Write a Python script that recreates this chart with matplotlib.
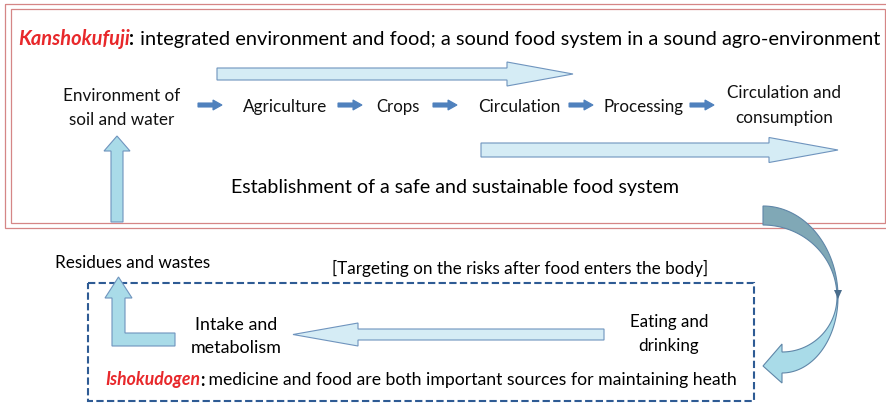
import numpy as np
import matplotlib
matplotlib.use("Agg")
import matplotlib.pyplot as plt
from matplotlib.patches import Polygon, Rectangle

plt.rcParams['font.family'] = ['Lato', 'DejaVu Sans']

# --- texts ---
TITLE_KEY = "Kanshokufuji"
TITLE_REST = " integrated environment and food; a sound food system in a sound agro-environment"
FLOW_STEPS = [["Environment of", "soil and water"], ["Agriculture"], ["Crops"],
              ["Circulation"], ["Processing"], ["Circulation and", "consumption"]]
GOAL = "Establishment of a safe and sustainable food system"
BODY_NOTE = "[Targeting on the risks after food enters the body]"
WASTE = "Residues and wastes"
INTAKE = ["Intake and", "metabolism"]
EATING = ["Eating and", "drinking"]
FOOT_KEY = "Ishokudogen"
FOOT_REST = " medicine and food are both important sources for maintaining heath"

# --- layout (pixel units, y downwards) ---
FLOW_X = [122, 285, 398, 519, 644, 784]
FLOW_W = [117, 84, 43, 82, 80, 113]
FLOW_Y = [[96, 120], [107], [107], [107], [107], [93, 118]]
SMALL_ARROW_X = [198, 338, 433, 569, 690]

RED = '#e8282b'
BORDER = '#d58686'
PALE = '#d5ecf5'
LIGHT = '#a9dbe8'
DARK = '#80a8b6'
EDGE = '#6f94be'
NAVY = '#2e5b94'
SMALL = '#4f81bd'

W, H = 886, 404
fig = plt.figure(figsize=(W / 100, H / 100), dpi=100)
ax = fig.add_axes([0, 0, 1, 1])
ax.set_xlim(0, W)
ax.set_ylim(H, 0)
ax.axis('off')
renderer = fig.canvas.get_renderer()


def width_of(t):
    return t.get_window_extent(renderer).width


def fit_lines(lines, xc, ys, width, **kw):
    """Draw centred lines sharing one font size so the widest line spans `width`."""
    probe = [ax.text(0, 0, s, fontsize=12, **kw) for s in lines]
    w = max(width_of(t) for t in probe)
    for t in probe:
        t.remove()
    size = 12 * width / w
    for s, y in zip(lines, ys):
        ax.text(xc, y, s, fontsize=size, ha='center', va='center', **kw)


def rich_line(x0, y, parts, width):
    """Draw a line made of differently styled pieces, scaled to `width`."""
    probe = [ax.text(0, 0, s, fontsize=12, **kw) for s, kw in parts]
    ws = [width_of(t) for t in probe]
    for t in probe:
        t.remove()
    k = width / sum(ws)
    x = x0
    for (s, kw), w in zip(parts, ws):
        ax.text(x, y, s, fontsize=12 * k, ha='left', va='center', **kw)
        x += w * k


def h_arrow(x_tail, x_tip, yc, shaft, head, head_len, fc, z=3):
    d = np.sign(x_tip - x_tail)
    xb = x_tip - d * head_len
    pts = [(x_tail, yc - shaft / 2), (xb, yc - shaft / 2), (xb, yc - head / 2),
           (x_tip, yc), (xb, yc + head / 2), (xb, yc + shaft / 2), (x_tail, yc + shaft / 2)]
    ax.add_patch(Polygon(pts, closed=True, fc=fc, ec=EDGE, lw=0.8, zorder=z))


def v_arrow(xc, y_tail, y_tip, shaft, head, head_len, fc, z=3):
    yb = y_tip + head_len
    pts = [(xc - shaft / 2, y_tail), (xc - shaft / 2, yb), (xc - head / 2, yb),
           (xc, y_tip), (xc + head / 2, yb), (xc + shaft / 2, yb), (xc + shaft / 2, y_tail)]
    ax.add_patch(Polygon(pts, closed=True, fc=fc, ec=EDGE, lw=0.8, zorder=z))


# double red frame
ax.add_patch(Rectangle((5, 4), 884, 224, fill=False, ec=BORDER, lw=0.9, zorder=1))
ax.add_patch(Rectangle((11, 9), 874, 214, fill=False, ec=BORDER, lw=0.9, zorder=1))

# title
rich_line(18, 39, [(TITLE_KEY, dict(color=RED, fontweight='bold', fontstyle='italic')),
                   (":", dict(color='black', fontweight='bold')),
                   (TITLE_REST, dict(color='black'))], 861)

# flow row
for lines, xc, ys, w in zip(FLOW_STEPS, FLOW_X, FLOW_Y, FLOW_W):
    fit_lines(lines, xc, ys, w, color='#111111')
for x in SMALL_ARROW_X:
    h_arrow(x, x + 24, 105, 4, 10, 9, SMALL)
    ax.patches[-1].set_edgecolor(SMALL)

# big pale arrows in the top box
h_arrow(217, 573, 74, 12, 24, 66, PALE)
h_arrow(481, 838, 150, 14, 25, 69, PALE)
fit_lines([GOAL], 455, [187], 448, color='black')

# up arrow into environment
v_arrow(117, 222, 136, 12, 26, 15, LIGHT)

# curved arrow from top box down to bottom box
t = np.linspace(0, np.pi / 2, 40)
outer = np.c_[763 + 75 * np.sin(t), 297 - 91 * np.cos(t)]
inner = np.c_[763 + 74 * np.sin(t), 297 - 72 * np.cos(t)][::-1]
ax.add_patch(Polygon(np.vstack([outer, inner]), closed=True, fc=DARK, ec='#5f86a8',
                     lw=0.8, zorder=4))
low_outer = np.c_[782 + 56 * np.cos(t), 297 + 76 * np.sin(t)]
low_inner = np.c_[782 + 55 * np.cos(t), 297 + 55 * np.sin(t)][::-1]
head = np.array([(782, 383), (763, 366), (782, 344)])
ax.add_patch(Polygon(np.vstack([low_outer, head, low_inner]), closed=True, fc=LIGHT,
                     ec='#5f86a8', lw=0.8, zorder=4))
ax.add_patch(Polygon([(834, 290), (842, 290), (838, 299)], closed=True, fc='#4a6d8c',
                     ec='none', zorder=5))

# lower dashed box
ax.add_patch(Rectangle((88, 283), 666, 118, fill=False, ec=NAVY, lw=1.5,
                       linestyle=(0, (3.5, 1.6)), zorder=2))
fit_lines([WASTE], 133, [263], 155, color='black')
fit_lines([BODY_NOTE], 520, [268], 376, color='black')
fit_lines(INTAKE, 236, [325, 348], 90, color='black')
fit_lines(EATING, 669, [322, 346], 78, color='black')
h_arrow(604, 293, 334.5, 11, 23, 65, PALE)

# L-shaped arrow to residues
L_pts = [(118.5, 277), (132, 298), (125, 298), (125, 333), (175, 333), (175, 346),
         (112, 346), (112, 298), (105, 298)]
ax.add_patch(Polygon(L_pts, closed=True, fc=LIGHT, ec=EDGE, lw=0.8, zorder=3))

rich_line(105, 380, [(FOOT_KEY, dict(color=RED, fontweight='bold', fontstyle='italic')),
                     (":", dict(color='black', fontweight='bold')),
                     (FOOT_REST, dict(color='black'))], 629)

fig.savefig('out.png', dpi=100, facecolor='white')
